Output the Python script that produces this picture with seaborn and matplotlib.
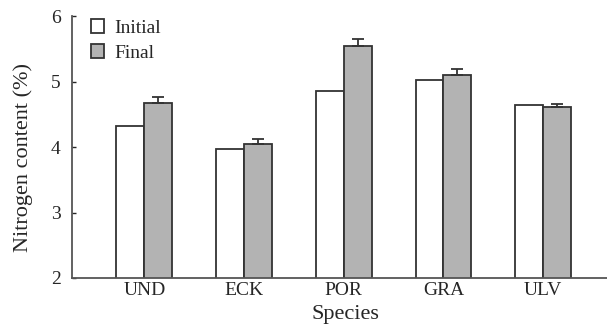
import pandas as pd
import seaborn as sns
import matplotlib.pyplot as plt

species = ["UND", "ECK", "POR", "GRA", "ULV"]
initial = [4.32, 3.97, 4.86, 5.03, 4.65]
final = [4.68, 4.05, 5.55, 5.11, 4.61]
final_err = [0.08, 0.08, 0.10, 0.09, 0.05]

df = pd.DataFrame({
    "Species": species * 2,
    "value": initial + final,
    "group": ["Initial"] * len(species) + ["Final"] * len(species),
})

sns.set_style("ticks")
plt.rcParams['font.family'] = ['Liberation Serif', 'DejaVu Serif']

fig, ax = plt.subplots(figsize=(6.07, 3.27), dpi=100)
sns.barplot(data=df, x="Species", y="value", hue="group",
            palette={"Initial": "white", "Final": "#b3b3b3"},
            edgecolor="#333333", linewidth=1.3, width=0.56, gap=0,
            errorbar=None, ax=ax)

# error bars on the Final bars only (upper half)
for bar, err in zip(ax.containers[1], final_err):
    x = bar.get_x() + bar.get_width() / 2
    ax.errorbar(x, bar.get_height(), yerr=[[0], [err]], fmt="none",
                ecolor="#333333", elinewidth=1.3, capsize=4, capthick=1.3)

ax.set_ylim(2, 6)
ax.set_yticks([2, 3, 4, 5, 6])
ax.set_xlim(-0.73, 4.64)
ax.set_ylabel("Nitrogen content (%)", fontsize=16)
ax.set_xlabel("Species", fontsize=16)
ax.yaxis.set_label_coords(-0.072, 0.46)
ax.xaxis.set_label_coords(0.512, -0.105)
ax.tick_params(axis="y", direction="in", length=3, width=1, labelsize=14, pad=8)
ax.tick_params(axis="x", length=0, labelsize=14, pad=3)
for s in ["top", "right"]:
    ax.spines[s].set_visible(False)
for s in ["left", "bottom"]:
    ax.spines[s].set_color("#555555")
    ax.spines[s].set_linewidth(1.3)

leg = ax.legend(loc="upper left", bbox_to_anchor=(0.01, 1.04), frameon=False,
                fontsize=14, handlelength=0.7, handleheight=0.7,
                handletextpad=0.5, labelspacing=0.35, borderaxespad=0.3)

plt.subplots_adjust(left=0.118, right=1.0, top=0.95, bottom=0.15)
plt.savefig("out.png", dpi=100)
